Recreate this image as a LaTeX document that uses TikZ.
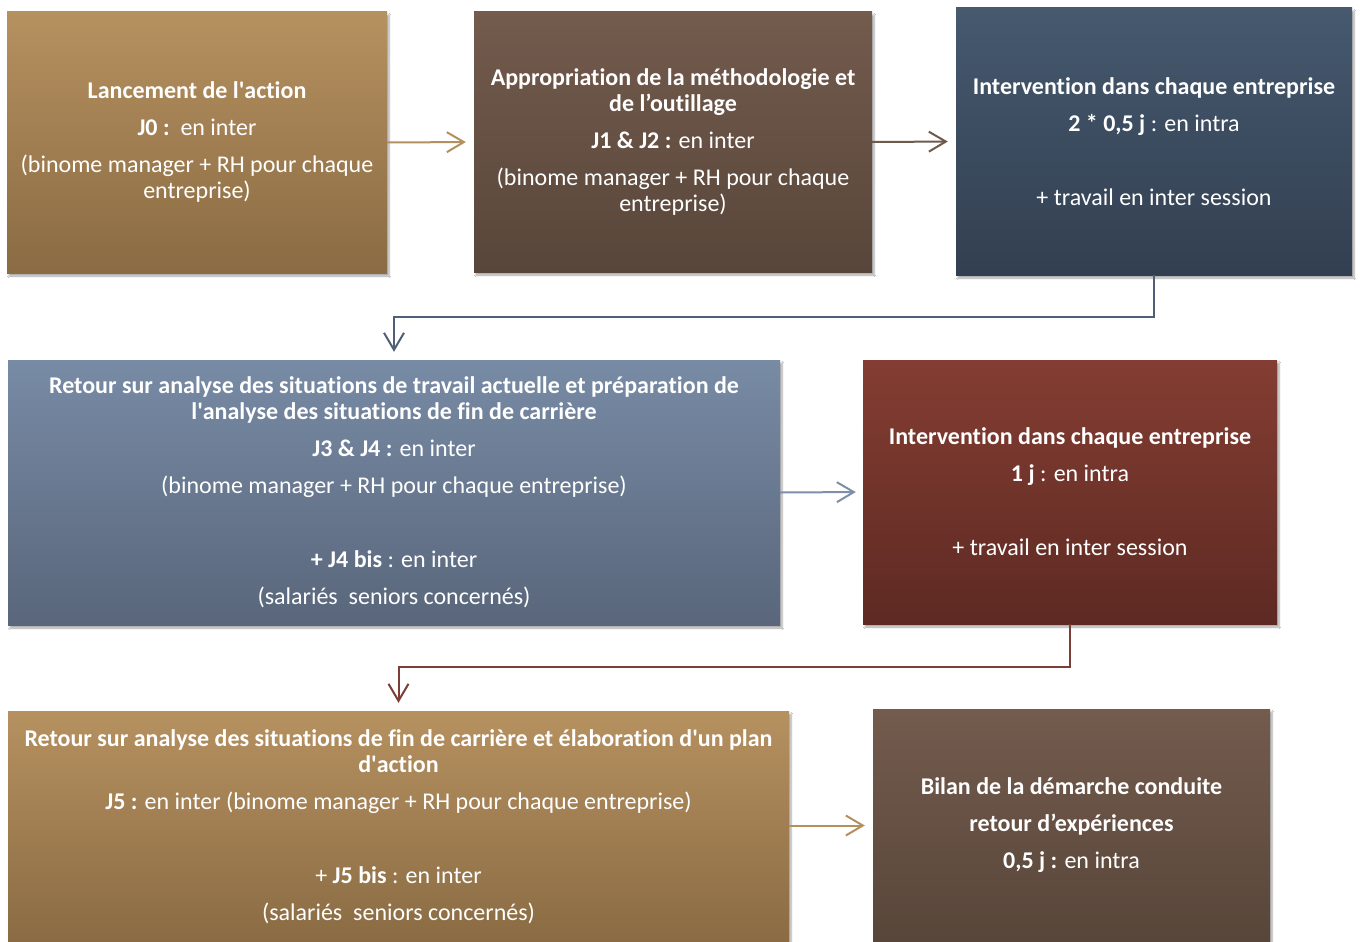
\documentclass[tikz,border=0pt]{standalone}
\usepackage{fontspec}
\setmainfont{Carlito}[Ligatures={NoCommon}]
\usetikzlibrary{arrows.meta,shadows.blur}
\definecolor{goldT}{HTML}{B69160}
\definecolor{goldB}{HTML}{8A6B43}
\definecolor{brownT}{HTML}{735B4D}
\definecolor{brownB}{HTML}{58463A}
\definecolor{slateT}{HTML}{46596F}
\definecolor{slateB}{HTML}{323F50}
\definecolor{blueT}{HTML}{788BA5}
\definecolor{blueB}{HTML}{59667B}
\definecolor{redT}{HTML}{843D32}
\definecolor{redB}{HTML}{5D2A23}
\definecolor{goldL}{HTML}{B3915F}
\definecolor{brownL}{HTML}{6E5A4D}
\definecolor{slateL}{HTML}{4F5F75}
\definecolor{blueL}{HTML}{7E8FA9}
\definecolor{redL}{HTML}{7B3F35}
\tikzset{
  box/.style={rectangle, inner sep=0pt, text=white, align=center,
    font=\fontsize{24}{26}\selectfont,
    blur shadow={shadow xshift=2pt, shadow yshift=-3pt, shadow blur steps=6, shadow opacity=35}},
  arr/.style={line width=2pt, -{Straight Barb[length=17pt,width=20pt]}},
}
\begin{document}
\begin{tikzpicture}[x=1pt,y=-1pt]
\useasboundingbox[fill=white] (0,0) rectangle (1360,942);

\node[box, minimum width=380pt, minimum height=261pt, top color=goldT, bottom color=goldB] (A) at (197,142.5)
{{\bfseries Lancement de l\textquotesingle action}\\[11pt]
 {\bfseries J0 :}\ \ en inter\\[11pt]
 (binome manager + RH pour chaque\\ entreprise)};

\node[box, minimum width=398pt, minimum height=260pt, top color=brownT, bottom color=brownB] (B) at (673,142)
{{\bfseries Appropriation de la méthodologie et}\\
 {\bfseries de l’outillage}\\[11pt]
 {\bfseries J1 \& J2 :} en inter\\[11pt]
 (binome manager + RH pour chaque\\ entreprise)};

\node[box, minimum width=396pt, minimum height=267pt, top color=slateT, bottom color=slateB] (C) at (1154,141.5)
{{\bfseries Intervention dans chaque entreprise}\\[11pt]
 {\bfseries 2 * 0,5 j} : en intra\\[48pt]
 + travail en inter session};

\node[box, minimum width=772pt, minimum height=265pt, top color=blueT, bottom color=blueB] (D) at (394,492.5)
{{\bfseries Retour sur analyse des situations de travail actuelle et préparation de}\\
 {\bfseries l\textquotesingle analyse des situations de fin de carrière}\\[11pt]
 {\bfseries J3 \& J4 :} en inter\\[11pt]
 (binome manager + RH pour chaque entreprise)\\[48pt]
 {\bfseries + J4 bis} : en inter\\[11pt]
 (salariés\ \ seniors concernés)};

\node[box, minimum width=414pt, minimum height=264pt, top color=redT, bottom color=redB] (E) at (1070,492)
{{\bfseries Intervention dans chaque entreprise}\\[11pt]
 {\bfseries 1 j} : en intra\\[48pt]
 + travail en inter session};

\node[box, minimum width=781pt, minimum height=231pt, top color=goldT, bottom color=goldB] (F) at (398.5,826.5)
{{\bfseries Retour sur analyse des situations de fin de carrière et élaboration d\textquotesingle un plan}\\
 {\bfseries d\textquotesingle action}\\[11pt]
 {\bfseries J5 :} en inter (binome manager + RH pour chaque entreprise)\\[48pt]
 + {\bfseries J5 bis} : en inter\\[11pt]
 (salariés\ \ seniors concernés)};

\node[box, minimum width=397pt, minimum height=233pt, top color=brownT, bottom color=brownB] (G) at (1071.5,825.5)
{{\bfseries Bilan de la démarche conduite}\\[11pt]
 {\bfseries retour d’expériences}\\[11pt]
 {\bfseries 0,5 j :} en intra};

\draw[arr, goldL, shorten >=8pt] (A.east) -- (B.west);
\draw[arr, brownL, shorten >=8pt] (B.east) -- (C.west);
\draw[arr, slateL, shorten >=8pt] (C.south) -- (C.south |- 0,317) -| (D.north);
\draw[arr, blueL, shorten >=7pt] (D.east) -- (E.west);
\draw[arr, redL, shorten >=8pt] (E.south) -- (E.south |- 0,667) -| (F.north);
\draw[arr, goldL, shorten >=8pt] (F.east |- G.west) -- (G.west);
\end{tikzpicture}
\end{document}
